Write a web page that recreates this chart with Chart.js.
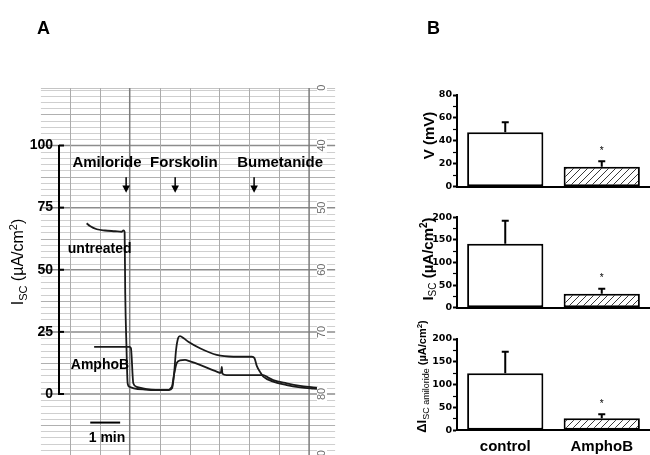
<!DOCTYPE html>
<html><head><meta charset="utf-8">
<script src="https://cdn.jsdelivr.net/npm/chart.js@4.4.1/dist/chart.umd.min.js"></script>
<style>
html,body{margin:0;padding:0;background:#fff;}
#wrap{position:relative;width:650px;height:455px;overflow:hidden;background:#fff;}
canvas{position:absolute;left:0;top:0;width:650px;height:455px;}
</style></head><body>
<div id="wrap">
<canvas id="cA" width="650" height="455"></canvas>
<canvas id="cB1" width="650" height="455"></canvas>
<canvas id="cB2" width="650" height="455"></canvas>
<canvas id="cB3" width="650" height="455"></canvas>
</div>
<script>
// ---------- Panel A data (time in min, Isc in µA/cm²) ----------
const untreatedT = [1.56,1.67,1.90,2.17,2.51,2.73,2.79,2.83,2.85,2.89,2.93,2.99,3.14,3.51,3.91,4.31,4.42,4.48,4.55,4.62,4.68,4.82,4.96,5.35,5.91,6.47,7.09,7.17,7.25,7.36,7.47,7.80,8.25,8.70,9.14,9.36];
const untreatedI = [68.7,67.6,66.3,65.8,65.5,65.3,65.8,65.2,40.6,19.7,4.4,2.9,2.3,1.8,1.6,1.6,2.4,7.6,17.7,22.5,23.3,22.3,21.0,18.4,15.7,15.0,15.0,14.5,11.3,8.9,7.0,5.0,3.6,2.7,2.2,2.0];
const amphoT = [1.81,2.99,3.04,3.12,3.23,3.57,4.24,4.41,4.48,4.57,4.68,4.85,5.02,5.35,5.91,6.05,6.08,6.10,6.24,6.69,7.47,7.63,7.80,8.25,8.70,9.14,9.36];
const amphoI = [19.0,19.0,18.5,4.3,2.9,2.0,1.6,2.9,7.6,12.4,13.5,13.7,13.1,11.7,9.0,8.5,10.9,8.2,7.6,7.6,7.6,6.6,5.6,4.3,3.3,2.7,2.4];
const iscTicks = [0,25,50,75,100];
const drugs = ['Amiloride','Forskolin','Bumetanide'];
const drugTimes = [2.88,4.52,7.16];
const drugLabelT = [2.24,4.81,8.03];
const paperLabels = ['0','40','50','60','70','80','90'];
const paperLabelY = [123.3,100,75,50,25,0,-25];

// ---------- Panel B data ----------
const groups = ['control','AmphoB'];
const vMean = [47.5,17.5];
const vSem = [8.7,4.7];
const iscMean = [141.6,31.0];
const iscSem = [50.9,11.0];
const dIscMean = [124.8,26.3];
const dIscSem = [47.2,8.7];
const significant = [false,true];

const FONT = '"Liberation Sans", Arial, sans-serif';
Chart.defaults.font.family = FONT;
Chart.defaults.color = '#000';

function richTextV(ctx, xBase, yCenter, parts){
  ctx.save();
  let total = 0;
  parts.forEach(p => { ctx.font = p.font; p.w = ctx.measureText(p.t).width; total += p.w; });
  ctx.translate(xBase, yCenter);
  ctx.rotate(-Math.PI/2);
  ctx.textAlign = 'left'; ctx.textBaseline = 'alphabetic'; ctx.fillStyle = '#000';
  let x = -total/2;
  parts.forEach(p => { ctx.font = p.font; ctx.fillText(p.t, x, p.dy || 0); x += p.w; });
  ctx.restore();
}

// chart-recorder paper grid
const paperPlugin = {
  id: 'paper',
  beforeDraw(chart){
    const {ctx, scales:{x, y}} = chart;
    const L = x.getPixelForValue(0.03), R = x.getPixelForValue(9.87);
    const T = y.getPixelForValue(123.1), B = y.getPixelForValue(-27);
    ctx.save();
    for (let k = -10; k <= 49; k++){
      const v = k * 2.5;
      const py = y.getPixelForValue(v);
      if (py < T - 0.5) continue;
      const major = k % 10 === 0, mid = k % 5 === 0;
      ctx.strokeStyle = major ? '#8c8c8c' : (mid ? '#b0b0b0' : '#cfcfcf');
      ctx.lineWidth = major ? 1.5 : 1;
      const yy = major ? py : Math.round(py) + 0.5;
      ctx.beginPath(); ctx.moveTo(L, yy); ctx.lineTo(R, yy); ctx.stroke();
    }
    ctx.strokeStyle = '#c4c4c4'; ctx.lineWidth = 1;
    ctx.beginPath(); ctx.moveTo(L, Math.round(T)+0.5); ctx.lineTo(R, Math.round(T)+0.5); ctx.stroke();
    for (let t = 1; t <= 9; t++){
      const px = x.getPixelForValue(t);
      const major = t % 6 === 3;
      ctx.strokeStyle = major ? '#7c7c7c' : '#ababab';
      ctx.lineWidth = major ? 1.5 : 1;
      const xx = major ? px : Math.round(px) + 0.5;
      ctx.beginPath(); ctx.moveTo(xx, T); ctx.lineTo(xx, B); ctx.stroke();
    }
    ctx.restore();
  },
  afterDraw(chart){
    const {ctx, scales:{x, y}} = chart;
    ctx.save();
    // inward tick marks on the Isc axis
    const ax = chart.chartArea.left;
    ctx.strokeStyle = '#000'; ctx.lineWidth = 2;
    iscTicks.forEach(v => {
      const py = y.getPixelForValue(v);
      ctx.beginPath(); ctx.moveTo(ax, py); ctx.lineTo(ax + 5, py); ctx.stroke();
    });
    // paper labels (rotated)
    ctx.font = '11px ' + FONT;
    ctx.textAlign = 'center'; ctx.textBaseline = 'middle';
    paperLabels.forEach((s, i) => {
      const px = x.getPixelForValue(9.43), py = y.getPixelForValue(paperLabelY[i]);
      ctx.save();
      ctx.translate(px, py); ctx.rotate(-Math.PI/2);
      const w = ctx.measureText(s).width;
      ctx.fillStyle = '#fff'; ctx.fillRect(-w/2 - 1, -5, w + 2, 10);
      ctx.fillStyle = '#6e6e6e'; ctx.fillText(s, 0, 0);
      ctx.restore();
    });
    // drug labels and arrows
    ctx.fillStyle = '#000'; ctx.strokeStyle = '#000';
    ctx.font = 'bold 15px ' + FONT;
    ctx.textAlign = 'center'; ctx.textBaseline = 'alphabetic';
    drugs.forEach((d, i) => {
      ctx.fillText(d, x.getPixelForValue(drugLabelT[i]), y.getPixelForValue(91.3));
      const ax2 = x.getPixelForValue(drugTimes[i]);
      const y0 = y.getPixelForValue(87.2), y1 = y.getPixelForValue(83.9), y2 = y.getPixelForValue(81.0);
      ctx.lineWidth = 1.5;
      ctx.beginPath(); ctx.moveTo(ax2, y0); ctx.lineTo(ax2, y1 + 1); ctx.stroke();
      ctx.beginPath(); ctx.moveTo(ax2 - 3.8, y1); ctx.lineTo(ax2 + 3.8, y1); ctx.lineTo(ax2, y2); ctx.closePath(); ctx.fill();
    });
    // trace labels
    ctx.font = 'bold 14px ' + FONT; ctx.textAlign = 'left';
    ctx.fillText('untreated', x.getPixelForValue(0.93), y.getPixelForValue(56.6));
    ctx.fillText('AmphoB', x.getPixelForValue(1.03), y.getPixelForValue(10.1));
    // time scale bar
    ctx.lineWidth = 2;
    const sb = y.getPixelForValue(-11.5);
    ctx.beginPath(); ctx.moveTo(x.getPixelForValue(1.68), sb); ctx.lineTo(x.getPixelForValue(2.68), sb); ctx.stroke();
    ctx.textAlign = 'center';
    ctx.fillText('1 min', x.getPixelForValue(2.24), y.getPixelForValue(-19.2));
    // axis title
    richTextV(ctx, 23, 262, [
      {t:'I', font:'16px ' + FONT},
      {t:'SC', font:'11px ' + FONT, dy:4},
      {t:' (µA/cm', font:'16px ' + FONT},
      {t:'2', font:'11px ' + FONT, dy:-6},
      {t:')', font:'16px ' + FONT}
    ]);
    // panel letters
    ctx.font = 'bold 18px ' + FONT; ctx.textAlign = 'left'; ctx.fillStyle = '#000';
    ctx.fillText('A', 37, 34);
    ctx.fillText('B', 427, 34);
    ctx.restore();
  }
};

const trace = (ts, vs) => ts.map((t, i) => ({x: t, y: vs[i]}));

new Chart(document.getElementById('cA'), {
  type: 'line',
  data: { datasets: [
    {label:'untreated', data: trace(untreatedT, untreatedI), borderColor:'#1a1a1a', borderWidth:1.8, pointRadius:0, cubicInterpolationMode:'monotone', fill:false},
    {label:'AmphoB', data: trace(amphoT, amphoI), borderColor:'#1a1a1a', borderWidth:1.8, pointRadius:0, cubicInterpolationMode:'monotone', fill:false}
  ]},
  options: {
    responsive:false, animation:false, events:[],
    layout:{padding:{left:0, top:145.5, right:315, bottom:61}},
    plugins:{legend:{display:false}, tooltip:{enabled:false}},
    scales:{
      x:{type:'linear', min:0.635, max:9.866, display:false},
      y:{min:0, max:100, afterFit: s => { s.width = 59; },
         ticks:{stepSize:25, padding:6, font:{size:14, weight:'bold'}, color:'#000'},
         grid:{display:false, drawTicks:false},
         border:{display:true, color:'#000', width:2}}
    }
  },
  plugins:[paperPlugin]
});

// ---------- Panel B ----------
function makeHatch(){
  const c = document.createElement('canvas'); c.width = 7; c.height = 7;
  const g = c.getContext('2d');
  g.fillStyle = '#fff'; g.fillRect(0, 0, 7, 7);
  g.strokeStyle = '#3a3a3a'; g.lineWidth = 1;
  g.beginPath();
  g.moveTo(0, 7); g.lineTo(7, 0);
  g.moveTo(-1, 1); g.lineTo(1, -1);
  g.moveTo(6, 8); g.lineTo(8, 6);
  g.stroke();
  return g.createPattern(c, 'repeat');
}
const hatch = makeHatch();

const errorPlugin = {
  id: 'errs',
  afterDatasetsDraw(chart, args, opts){
    const ctx = chart.ctx, y = chart.scales.y;
    const meta = chart.getDatasetMeta(0);
    ctx.save();
    ctx.strokeStyle = '#000'; ctx.lineWidth = 2; ctx.fillStyle = '#000';
    meta.data.forEach((bar, i) => {
      const top = y.getPixelForValue(opts.mean[i] + opts.sem[i]);
      ctx.beginPath();
      ctx.moveTo(bar.x, bar.y); ctx.lineTo(bar.x, top);
      ctx.moveTo(bar.x - 3.5, top); ctx.lineTo(bar.x + 3.5, top);
      ctx.stroke();
      if (significant[i]) {
        ctx.font = '10px ' + FONT; ctx.textAlign = 'center'; ctx.textBaseline = 'middle';
        ctx.fillText('*', bar.x, top - 10);
      }
    });
    ctx.restore();
  },
  afterDraw(chart, args, opts){
    richTextV(chart.ctx, opts.titleX, opts.titleY, opts.title);
  }
};

function barChart(id, mean, sem, max, minor, major, top, bottom, showLabels, titleX, titleY, title){
  const xh = showLabels ? 24 : 0;
  return new Chart(document.getElementById(id), {
    type:'bar',
    data:{ labels: groups, datasets:[{ data: mean, backgroundColor:['#ffffff', hatch], borderColor:'#000', borderWidth:2, borderSkipped:false, barPercentage:0.79, categoryPercentage:1 }]},
    options:{
      responsive:false, animation:false, events:[],
      layout:{padding:{left:0, right:0, top: top, bottom: 455 - bottom - xh}},
      plugins:{legend:{display:false}, tooltip:{enabled:false}, errs:{mean: mean, sem: sem, titleX: titleX, titleY: titleY, title: title}},
      scales:{
        x:{type:'category', offset:true, afterFit: s => { s.height = xh; },
           grid:{display:false, drawTicks:false}, border:{display:true, color:'#000', width:2},
           ticks:{display: showLabels, padding:8, font:{size:15, weight:'bold'}, color:'#000'}},
        y:{min:0, max:max, afterFit: s => { s.width = 457; },
           ticks:{stepSize:minor, autoSkip:false, padding:1, color:'#000', font:{family:'"DejaVu Sans", sans-serif', size:9.5, weight:'bold'},
                  callback: v => (v % major === 0 ? String(v) : '')},
           grid:{display:true, drawOnChartArea:false, drawTicks:true, tickLength:4, tickColor:'#000',
                 tickWidth: c => (c.tick && c.tick.value % major === 0 ? 2 : 1.2)},
           border:{display:true, color:'#000', width:2}}
      }
    },
    plugins:[errorPlugin]
  });
}

const B = 'bold ';
barChart('cB1', vMean, vSem, 80, 10, 20, 95, 186.7, false, 433.5, 135.5, [
  {t:'V (mV)', font: B + '15px ' + FONT}
]);
barChart('cB2', iscMean, iscSem, 200, 25, 50, 217.3, 307.7, false, 433, 259, [
  {t:'I', font: B + '15px ' + FONT},
  {t:'SC', font:'10px ' + FONT, dy:3},
  {t:' (µA/cm', font: B + '15px ' + FONT},
  {t:'2', font: B + '10px ' + FONT, dy:-6},
  {t:')', font: B + '15px ' + FONT}
]);
barChart('cB3', dIscMean, dIscSem, 200, 25, 50, 339, 430.3, true, 426, 376.5, [
  {t:'ΔI', font: B + '13px ' + FONT},
  {t:'SC amiloride', font:'9px ' + FONT, dy:3},
  {t:' (µA/cm', font: B + '11px ' + FONT},
  {t:'2', font: B + '8px ' + FONT, dy:-4.5},
  {t:')', font: B + '11px ' + FONT}
]);
</script>
</body></html>
